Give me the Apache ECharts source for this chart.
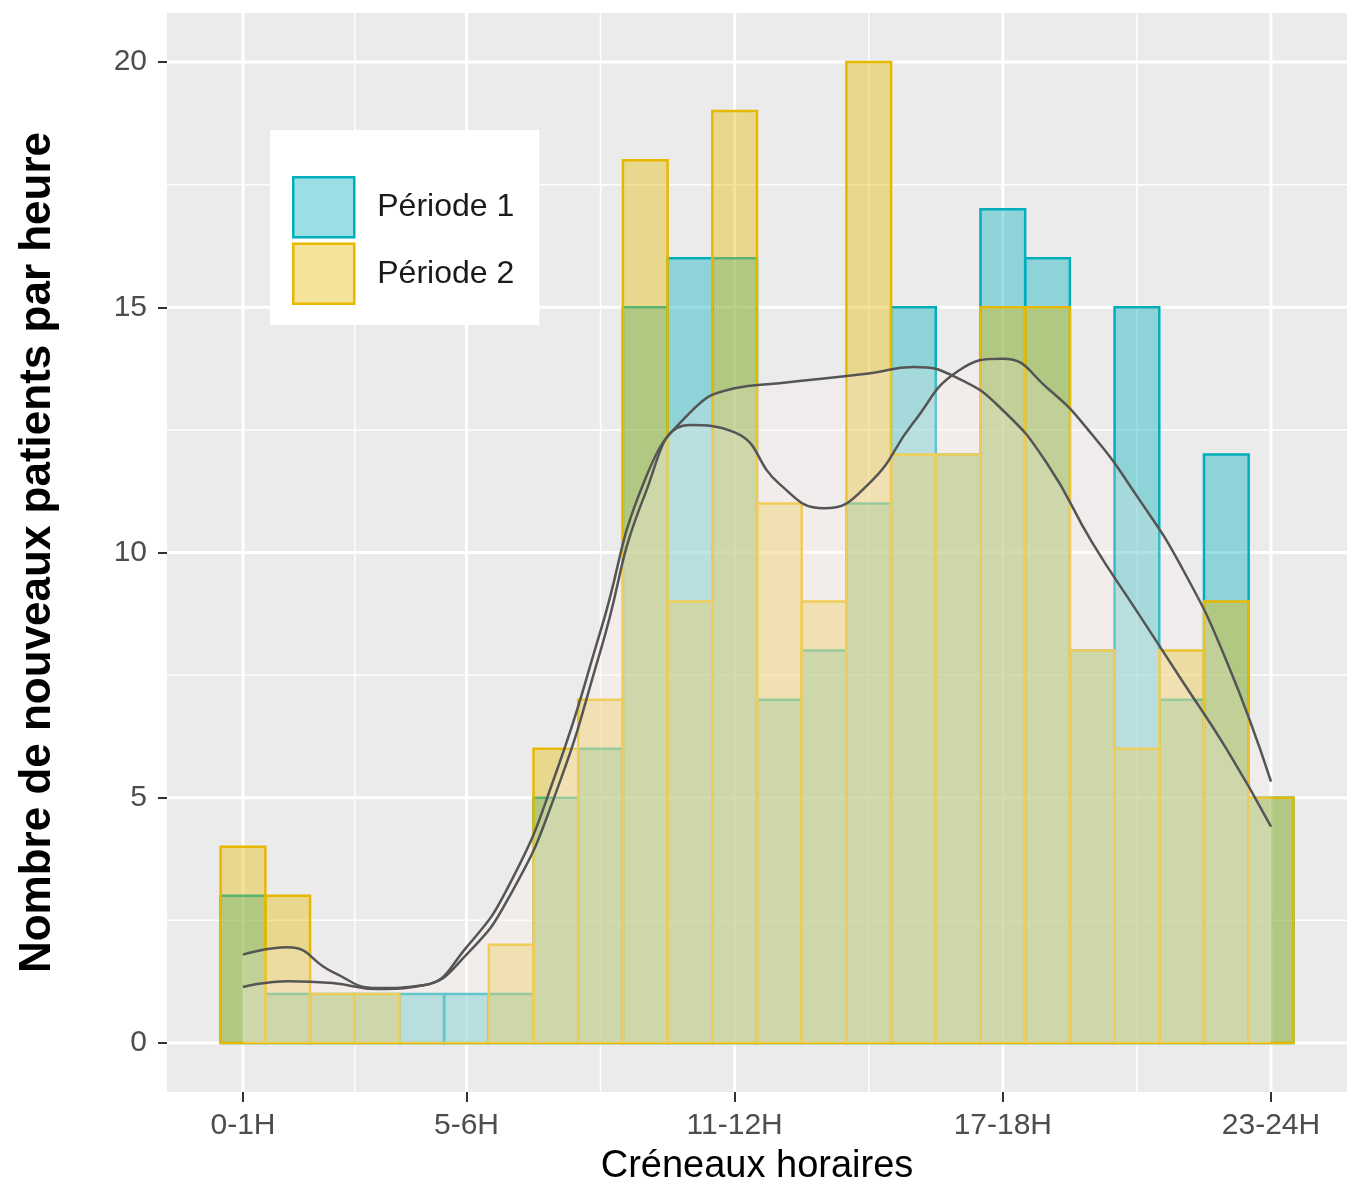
<!DOCTYPE html>
<html>
<head>
<meta charset="utf-8">
<title>Nouveaux patients par heure</title>
<script src="https://cdn.jsdelivr.net/npm/echarts@6.0.0/dist/echarts.min.js"></script>
<style>
  html, body { margin: 0; padding: 0; background: #fff; }
  #chart { width: 1347px; height: 1193px; }
</style>
</head>
<body>
<div id="chart"></div>
<script>
// nombre de nouveaux patients par creneau horaire, 0-1H ... 23-24H
var periode1 = [3, 1, 1, 1, 1, 1, 1, 5, 6, 15, 16, 16, 7, 8, 11, 15, 12, 17, 16, 8, 15, 7, 12, 5];
var periode2 = [4, 3, 1, 1, 0, 0, 2, 6, 7, 18, 9, 19, 11, 9, 20, 12, 12, 15, 15, 8, 6, 8, 9, 5];

// courbes lissees, lues au centre de chaque creneau
var lissage1 = [1.14, 1.26, 1.22, 1.1, 1.17, 1.8, 3.05, 5.1, 8.0, 11.2, 12.6, 12.45, 11.4, 10.9, 11.4, 12.65, 13.7, 13.95, 13.35, 12.4, 11.15, 9.7, 7.8, 5.33];
var lissage2 = [1.8, 1.95, 1.45, 1.12, 1.17, 1.95, 3.3, 5.5, 8.4, 11.5, 12.85, 13.35, 13.45, 13.55, 13.65, 13.78, 13.55, 12.9, 11.8, 10.2, 8.8, 7.4, 6.0, 4.41];

var xTickPos = [0.5, 5.5, 11.5, 17.5, 23.5];
var xTickLabels = ['0-1H', '5-6H', '11-12H', '17-18H', '23-24H'];
var xMinorGrid = [3, 8.5, 14.5, 20.5];
var yTicks = [0, 5, 10, 15, 20];
var yMinorGrid = [2.5, 7.5, 12.5, 17.5];

var TEAL = '#00AFBB', TEAL_FILL = 'rgba(0,175,187,0.4)';
var GOLD = '#E7B800', GOLD_FILL = 'rgba(231,184,0,0.4)';
var FONT = 'Liberation Sans, Arial, sans-serif';

var chart = echarts.init(document.getElementById('chart'));

// lignes de la grille (fond gris facon ggplot)
var gridData = [];
yTicks.forEach(function (v) { gridData.push([0, v, 1]); });
yMinorGrid.forEach(function (v) { gridData.push([0, v, 0]); });
xTickPos.forEach(function (v) { gridData.push([1, v, 1]); });
xMinorGrid.forEach(function (v) { gridData.push([1, v, 0]); });

function barSeries(name, values, stroke, fill, z) {
    return {
        type: 'custom',
        name: name,
        z: z,
        itemStyle: { color: fill, borderColor: stroke, borderWidth: 2.5 },
        encode: { x: 0, y: 1 },
        data: values.map(function (v, i) { return [i, v]; }),
        renderItem: function (params, api) {
            var i = api.value(0), v = api.value(1);
            var p0 = api.coord([i, 0]);
            var p1 = api.coord([i + 1, v]);
            return {
                type: 'rect',
                shape: { x: p0[0], y: p1[1], width: p1[0] - p0[0], height: p0[1] - p1[1] },
                style: { fill: fill, stroke: stroke, lineWidth: 2.5 }
            };
        }
    };
}

function curveSeries(values) {
    return {
        type: 'line',
        z: 4,
        smooth: 0.5,
        symbol: 'none',
        silent: true,
        data: values.map(function (v, i) { return [i + 0.5, v]; }),
        lineStyle: { color: '#555555', width: 2.5 },
        areaStyle: { color: 'rgba(255,243,238,0.3)' }
    };
}

var option = {
    backgroundColor: '#ffffff',
    animation: false,
    grid: {
        left: 167, right: 0, top: 13, bottom: 101,
        show: true, backgroundColor: '#EBEBEB', borderWidth: 0
    },
    legend: {
        orient: 'vertical',
        left: 270, top: 130,
        backgroundColor: '#ffffff',
        padding: [46, 25, 20, 22],
        itemWidth: 61, itemHeight: 60, itemGap: 4,
        icon: 'rect',
        textStyle: { fontSize: 32, color: '#1a1a1a', fontFamily: FONT, padding: [4, 0, 0, 18] },
        data: [
            { name: 'Période 1', itemStyle: { color: TEAL_FILL, borderColor: TEAL, borderWidth: 2.5 } },
            { name: 'Période 2', itemStyle: { color: GOLD_FILL, borderColor: GOLD, borderWidth: 2.5 } }
        ]
    },
    xAxis: {
        type: 'value',
        min: -1.2, max: 25.2,
        axisLine: { show: false, onZero: false },
        axisTick: { show: true, customValues: xTickPos, length: 10, lineStyle: { color: '#333333', width: 2 } },
        axisLabel: {
            customValues: xTickPos,
            margin: 19,
            fontSize: 30, color: '#4D4D4D', fontFamily: FONT,
            formatter: function (v) {
                var k = xTickPos.indexOf(v);
                return k >= 0 ? xTickLabels[k] : '';
            }
        },
        splitLine: { show: false },
        name: 'Créneaux horaires',
        nameLocation: 'middle',
        nameGap: 56,
        nameTextStyle: { fontSize: 38, color: '#000000', fontFamily: FONT }
    },
    yAxis: {
        type: 'value',
        min: -1, max: 21,
        axisLine: { show: false, onZero: false },
        axisTick: { show: true, customValues: yTicks, length: 9, lineStyle: { color: '#333333', width: 2 } },
        axisLabel: { customValues: yTicks, margin: 20, fontSize: 30, color: '#4D4D4D', fontFamily: FONT },
        splitLine: { show: false },
        name: 'Nombre de nouveaux patients par heure',
        nameLocation: 'middle',
        nameGap: 107,
        nameTextStyle: { fontSize: 44, fontWeight: 'bold', color: '#000000', fontFamily: FONT }
    },
    series: [
        {
            type: 'custom',
            z: 1,
            silent: true,
            encode: { x: -1, y: -1 },
            data: gridData,
            renderItem: function (params, api) {
                var cs = params.coordSys;
                var dir = api.value(0), v = api.value(1), w = api.value(2) ? 3 : 1.5;
                if (dir === 0) {
                    var y = api.coord([0, v])[1];
                    return { type: 'line', shape: { x1: cs.x, y1: y, x2: cs.x + cs.width, y2: y }, style: { stroke: '#ffffff', lineWidth: w } };
                }
                var x = api.coord([v, 0])[0];
                return { type: 'line', shape: { x1: x, y1: cs.y, x2: x, y2: cs.y + cs.height }, style: { stroke: '#ffffff', lineWidth: w } };
            }
        },
        barSeries('Période 1', periode1, TEAL, TEAL_FILL, 2),
        barSeries('Période 2', periode2, GOLD, GOLD_FILL, 3),
        curveSeries(lissage1),
        curveSeries(lissage2)
    ]
};

chart.setOption(option);
</script>
</body>
</html>
